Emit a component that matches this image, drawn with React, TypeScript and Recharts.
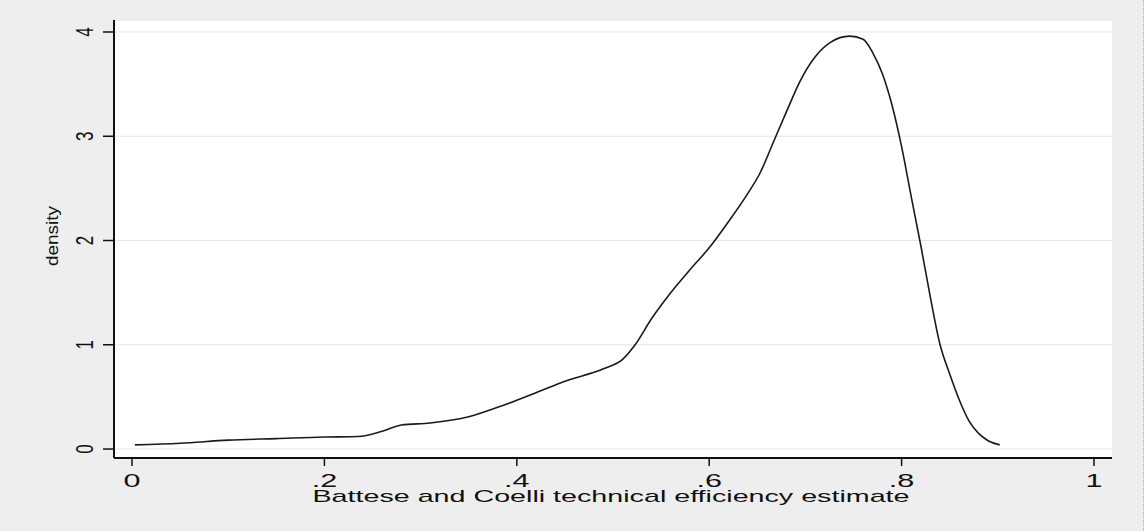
import { LineChart, Line, XAxis, YAxis, CartesianGrid } from "recharts";

// kernel density of technical efficiency
const effX = [
  0.003, 0.05, 0.1, 0.15, 0.2, 0.235, 0.26, 0.28, 0.31, 0.35, 0.38, 0.42, 0.45, 0.49, 0.51,
  0.523, 0.54, 0.56, 0.58, 0.6, 0.62, 0.64, 0.653, 0.667, 0.681, 0.694, 0.71, 0.726, 0.746,
  0.76, 0.77, 0.78, 0.79, 0.8, 0.81, 0.82, 0.83, 0.84, 0.85, 0.86, 0.87, 0.88, 0.89, 0.902,
];
const densityY = [
  0.04, 0.055, 0.085, 0.1, 0.115, 0.12, 0.17, 0.23, 0.25, 0.31, 0.4, 0.54, 0.65, 0.77, 0.86,
  1.0, 1.25, 1.5, 1.72, 1.93, 2.18, 2.45, 2.65, 2.95, 3.25, 3.52, 3.76, 3.9, 3.96,
  3.93, 3.8, 3.6, 3.3, 2.9, 2.42, 1.95, 1.45, 1.0, 0.72, 0.47, 0.27, 0.15, 0.08, 0.04,
];
const xTicks = [0, 0.2, 0.4, 0.6, 0.8, 1];
const xTickLabels = ["0", ".2", ".4", ".6", ".8", "1"];
const yTicks = [0, 1, 2, 3, 4];

const data = effX.map((x, i) => ({ x, y: densityY[i] }));

const FONT = "'Liberation Sans', Arial, sans-serif";
const INK = "#111";

const XTick = (props: any) => {
  const { x, y, payload } = props;
  const i = xTicks.indexOf(payload.value);
  return (
    <g transform={`translate(${x},${y})`}>
      <text transform="scale(1.7,1)" textAnchor="middle" dy={19} fontSize={18} fontFamily={FONT} fill={INK}>
        {i >= 0 ? xTickLabels[i] : payload.value}
      </text>
    </g>
  );
};

const YTick = (props: any) => {
  const { x, y, payload } = props;
  return (
    <g transform={`translate(${x - 8},${y}) scale(1.45,1) rotate(-90)`}>
      <text textAnchor="middle" fontSize={17} fontFamily={FONT} fill={INK}>
        {payload.value}
      </text>
    </g>
  );
};

export default function App() {
  return (
    <div
      style={{
        position: "absolute",
        left: 0,
        top: 0,
        width: 1144,
        height: 531,
        background: "#eeeeee",
        boxSizing: "border-box",
        borderRight: "1px dotted #aaa",
      }}
    >
      <LineChart width={1144} height={531} data={data} margin={{ top: 20, right: 32, bottom: 33, left: 54 }}>
        <CartesianGrid vertical={false} stroke="#e6e6e6" fill="#ffffff" />
        <XAxis
          type="number"
          dataKey="x"
          domain={[-0.0187, 1.0187]}
          ticks={xTicks}
          allowDataOverflow
          height={40}
          tickSize={8}
          tick={<XTick />}
          axisLine={{ stroke: INK, strokeWidth: 2 }}
          tickLine={{ stroke: INK, strokeWidth: 1.5 }}
          label={{
            content: () => (
              <text
                x={611}
                y={502}
                textAnchor="middle"
                fontSize={17}
                fontFamily={FONT}
                fill={INK}
                textLength={597}
                lengthAdjust="spacingAndGlyphs"
              >
                Battese and Coelli technical efficiency estimate
              </text>
            ),
          }}
        />
        <YAxis
          type="number"
          domain={[-0.086, 4.115]}
          ticks={yTicks}
          allowDataOverflow
          width={60}
          tickSize={11}
          tick={<YTick />}
          axisLine={{ stroke: INK, strokeWidth: 2 }}
          tickLine={{ stroke: INK, strokeWidth: 1.5 }}
          label={{
            content: () => (
              <g transform="translate(58,236) scale(1.4,1) rotate(-90)">
                <text
                  textAnchor="middle"
                  fontSize={12}
                  fontFamily={FONT}
                  fill={INK}
                  textLength={60}
                  lengthAdjust="spacingAndGlyphs"
                >
                  density
                </text>
              </g>
            ),
          }}
        />
        <Line
          type="monotone"
          dataKey="y"
          stroke="#1a1a1a"
          strokeWidth={1.6}
          dot={false}
          isAnimationActive={false}
        />
      </LineChart>
    </div>
  );
}
